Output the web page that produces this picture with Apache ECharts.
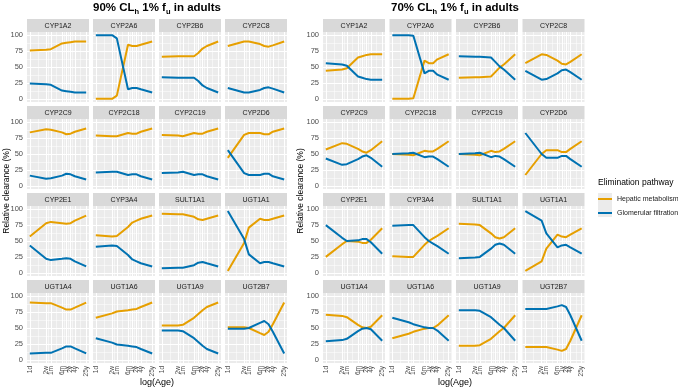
<!DOCTYPE html>
<html>
<head>
<meta charset="utf-8">
<script src="https://cdn.jsdelivr.net/npm/echarts@6/dist/echarts.min.js"></script>
<style>
  html, body { margin: 0; padding: 0; background: #fff; }
  #chart { width: 678px; height: 391px; }
</style>
</head>
<body>
<div id="chart"></div>
<script>
// ages (days) at which clearance was simulated, and their axis labels
const ageDays = [1, 14, 30, 182.5, 365, 730, 1460, 9125];
const ageLabels = ['1d', '2w', '1m', '6m', '1y', '2y', '4y', '25y'];
const yTicks = [0, 25, 50, 75, 100];

const enzymes = ['CYP1A2', 'CYP2A6', 'CYP2B6', 'CYP2C8',
                 'CYP2C9', 'CYP2C18', 'CYP2C19', 'CYP2D6',
                 'CYP2E1', 'CYP3A4', 'SULT1A1', 'UGT1A1',
                 'UGT1A4', 'UGT1A6', 'UGT1A9', 'UGT2B7'];

// 90% CLh in adults - one row per enzyme
const hepatic90 = [
  [76, 77, 78, 87, 88, 89, 90, 90],
  [0, 0, 5, 85, 83, 83, 85, 90],
  [66, 67, 67, 67, 72, 79, 83, 90],
  [83, 90, 90, 86, 83, 82, 84, 90],
  [84, 89, 88, 84, 81, 82, 85, 90],
  [79, 78, 78, 83, 82, 82, 85, 90],
  [80, 79, 78, 83, 82, 82, 85, 90],
  [44, 80, 83, 83, 81, 81, 85, 90],
  [57, 78, 80, 78, 77, 78, 82, 90],
  [59, 57, 58, 72, 79, 82, 85, 90],
  [93, 92, 92, 88, 84, 83, 85, 90],
  [3, 47, 71, 85, 83, 83, 85, 90],
  [90, 89, 89, 82, 79, 79, 82, 90],
  [66, 73, 76, 78, 79, 80, 83, 90],
  [54, 54, 55, 66, 72, 78, 83, 90],
  [51, 51, 50, 42, 39, 44, 56, 90]
];
const glomerular90 = [
  [24, 23, 22, 13, 12, 11, 10, 10],
  [100, 100, 95, 15, 17, 17, 15, 10],
  [34, 33, 33, 33, 28, 21, 17, 10],
  [17, 10, 10, 14, 17, 18, 16, 10],
  [16, 11, 12, 16, 19, 18, 15, 10],
  [21, 22, 22, 17, 18, 18, 15, 10],
  [20, 21, 22, 17, 18, 18, 15, 10],
  [56, 20, 17, 17, 19, 19, 15, 10],
  [43, 22, 20, 22, 23, 22, 18, 10],
  [41, 43, 42, 28, 21, 18, 15, 10],
  [7, 8, 8, 12, 16, 17, 15, 10],
  [97, 53, 29, 15, 17, 17, 15, 10],
  [10, 11, 11, 18, 21, 21, 18, 10],
  [34, 27, 24, 22, 21, 20, 17, 10],
  [46, 46, 45, 34, 28, 22, 17, 10],
  [49, 49, 50, 58, 61, 56, 44, 10]
];

// 70% CLh in adults
const hepatic70 = [
  [44, 46, 48, 65, 67, 69, 70, 70],
  [0, 0, 1, 60, 56, 56, 62, 70],
  [33, 34, 34, 35, 42, 49, 54, 70],
  [56, 70, 69, 60, 55, 54, 58, 70],
  [57, 67, 66, 58, 54, 52, 56, 70],
  [50, 49, 48, 55, 54, 54, 58, 70],
  [50, 49, 48, 55, 53, 54, 58, 70],
  [17, 50, 56, 56, 53, 53, 58, 70],
  [25, 45, 50, 49, 47, 47, 52, 70],
  [26, 25, 25, 44, 50, 54, 58, 70],
  [77, 76, 75, 62, 56, 54, 56, 70],
  [3, 18, 38, 60, 57, 56, 60, 70],
  [71, 69, 67, 55, 51, 50, 52, 70],
  [34, 41, 44, 49, 50, 50, 54, 70],
  [22, 22, 23, 33, 39, 45, 50, 70],
  [20, 20, 20, 16, 14, 17, 30, 70]
];
const glomerular70 = [
  [56, 54, 52, 35, 33, 31, 30, 30],
  [100, 100, 99, 40, 44, 44, 38, 30],
  [67, 66, 66, 65, 58, 51, 46, 30],
  [44, 30, 31, 40, 45, 46, 42, 30],
  [43, 33, 34, 42, 46, 48, 44, 30],
  [50, 51, 52, 45, 46, 46, 42, 30],
  [50, 51, 52, 45, 47, 46, 42, 30],
  [83, 50, 44, 44, 47, 47, 42, 30],
  [75, 55, 50, 51, 53, 53, 48, 30],
  [74, 75, 75, 56, 50, 46, 42, 30],
  [23, 24, 25, 38, 44, 46, 44, 30],
  [97, 82, 62, 40, 43, 44, 40, 30],
  [29, 31, 33, 45, 49, 50, 48, 30],
  [66, 59, 56, 51, 50, 50, 46, 30],
  [78, 78, 77, 67, 61, 55, 50, 30],
  [80, 80, 80, 84, 86, 83, 70, 30]
];

const HEP = 'Hepatic metabolism', GLO = 'Glomerular filtration';
const colHep = '#E69F00', colGlo = '#0072B2';

const tickLogs = ageDays.map(d => Math.log10(d));
const xSpan = tickLogs[tickLogs.length - 1] - tickLogs[0];
const xMin = tickLogs[0] - xSpan * 0.05, xMax = tickLogs[tickLogs.length - 1] + xSpan * 0.05;
// minor grid between breaks (ggplot style)
const xMinor = [];
for (let i = 1; i < tickLogs.length; i++) xMinor.push((tickLogs[i - 1] + tickLogs[i]) / 2);
const yMinor = [12.5, 37.5, 62.5, 87.5];

const sides = [
  { pct: '90%', hep: hepatic90, glo: glomerular90, lefts: [27, 93, 159, 225], mid: 157, yTitle: 7 },
  { pct: '70%', hep: hepatic70, glo: glomerular70, lefts: [323, 389.5, 456, 522.5], mid: 455, yTitle: 301 }
];
const rowTops = [19, 106, 193, 280];
const panelW = 62, stripH = 13, plotH = 70;

const grid = [], xAxis = [], yAxis = [], series = [], graphic = [];
const font = 'Liberation Sans, Arial, sans-serif';

function fmtX(v) {
  const i = tickLogs.findIndex(t => Math.abs(t - v) < 1e-6);
  return i >= 0 ? ageLabels[i] : '';
}

let k = 0;
sides.forEach(side => {
  enzymes.forEach((name, e) => {
    const r = Math.floor(e / 4), c = e % 4;
    const left = side.lefts[c], top = rowTops[r];
    grid.push({ left: left, top: top + stripH, width: panelW, height: plotH,
      show: true, backgroundColor: '#EBEBEB', borderWidth: 0 });
    xAxis.push({ gridIndex: k, type: 'value', min: xMin, max: xMax,
      splitLine: { show: false }, axisLine: { show: false },
      axisTick: { show: r === 3, customValues: tickLogs, length: 2, lineStyle: { color: '#333' } },
      axisLabel: { show: r === 3, customValues: tickLogs, rotate: 90, fontSize: 6.5, margin: 3,
        color: '#4D4D4D', fontFamily: font, formatter: fmtX } });
    yAxis.push({ gridIndex: k, type: 'value', min: -5, max: 105,
      splitLine: { show: false }, axisLine: { show: false },
      axisTick: { show: c === 0, customValues: yTicks, length: 2, lineStyle: { color: '#333' } },
      axisLabel: { show: c === 0, customValues: yTicks, fontSize: 7.5, margin: 4,
        color: '#4D4D4D', fontFamily: font } });

    // white grid lines, kept under the data
    const ml = [];
    xMinor.forEach(v => ml.push({ xAxis: v, lineStyle: { width: 0.5 } }));
    yMinor.forEach(v => ml.push({ yAxis: v, lineStyle: { width: 0.5 } }));
    tickLogs.forEach(v => ml.push({ xAxis: v, lineStyle: { width: 1 } }));
    yTicks.forEach(v => ml.push({ yAxis: v, lineStyle: { width: 1 } }));
    series.push({ type: 'line', xAxisIndex: k, yAxisIndex: k, z: 1, silent: true,
      data: [[0, 0]], symbol: 'none', lineStyle: { opacity: 0 },
      markLine: { z: 1, silent: true, symbol: ['none', 'none'], label: { show: false },
        lineStyle: { color: '#fff', type: 'solid' }, data: ml, animation: false } });

    series.push({ name: HEP, type: 'line', xAxisIndex: k, yAxisIndex: k, z: 3,
      data: ageDays.map((d, i) => [Math.log10(d), side.hep[e][i]]),
      symbol: 'none', color: colHep, lineStyle: { width: 2, color: colHep } });
    series.push({ name: GLO, type: 'line', xAxisIndex: k, yAxisIndex: k, z: 3,
      data: ageDays.map((d, i) => [Math.log10(d), side.glo[e][i]]),
      symbol: 'none', color: colGlo, lineStyle: { width: 2, color: colGlo } });

    // facet strip
    graphic.push({ type: 'rect', shape: { x: left, y: top, width: panelW, height: stripH },
      style: { fill: '#D9D9D9' }, silent: true });
    graphic.push({ type: 'text', x: left + panelW / 2, y: top + stripH / 2 + 0.5, silent: true,
      style: { text: name, fontSize: 7, fill: '#1A1A1A', fontFamily: font,
        align: 'center', verticalAlign: 'middle' } });
    k++;
  });

  // panel title with subscripts
  graphic.push({ type: 'text', x: side.mid, y: 0, silent: true,
    style: { text: '{a|' + side.pct + ' CL}{s|h}{a| 1% f}{s|u}{a| in adults}',
      align: 'center', verticalAlign: 'top', fill: '#000',
      rich: {
        a: { fontSize: 11.5, fontWeight: 'bold', lineHeight: 16, fontFamily: font, fill: '#000' },
        s: { fontSize: 7.5, fontWeight: 'bold', lineHeight: 7, verticalAlign: 'bottom', fontFamily: font, fill: '#000' }
      } } });
  // axis titles
  graphic.push({ type: 'text', x: side.yTitle, y: 191, rotation: Math.PI / 2, silent: true,
    style: { text: 'Relative clearance (%)', fontSize: 8.5, fill: '#000', fontFamily: font,
      align: 'center', verticalAlign: 'middle' } });
  graphic.push({ type: 'text', x: side.mid, y: 383, silent: true,
    style: { text: 'log(Age)', fontSize: 9, fill: '#000', fontFamily: font,
      align: 'center', verticalAlign: 'middle' } });
});

// legend key backgrounds + title
graphic.push({ type: 'text', x: 598, y: 183, silent: true,
  style: { text: 'Elimination pathway', fontSize: 8.5, fill: '#000', fontFamily: font, verticalAlign: 'middle' } });
graphic.push({ type: 'rect', shape: { x: 598, y: 193, width: 14, height: 12 }, style: { fill: '#EBEBEB' }, silent: true });
graphic.push({ type: 'rect', shape: { x: 598, y: 205, width: 14, height: 12 }, style: { fill: '#EBEBEB' }, silent: true });

const chart = echarts.init(document.getElementById('chart'));
chart.setOption({
  animation: false,
  backgroundColor: '#fff',
  grid: grid,
  xAxis: xAxis,
  yAxis: yAxis,
  series: series,
  graphic: graphic,
  legend: {
    data: [HEP, GLO], orient: 'vertical', left: 598, top: 194,
    icon: 'rect', itemWidth: 14, itemHeight: 2, itemGap: 4, padding: 0,
    textStyle: { fontSize: 7, color: '#1A1A1A', fontFamily: font, lineHeight: 10 }
  }
});
</script>
</body>
</html>
